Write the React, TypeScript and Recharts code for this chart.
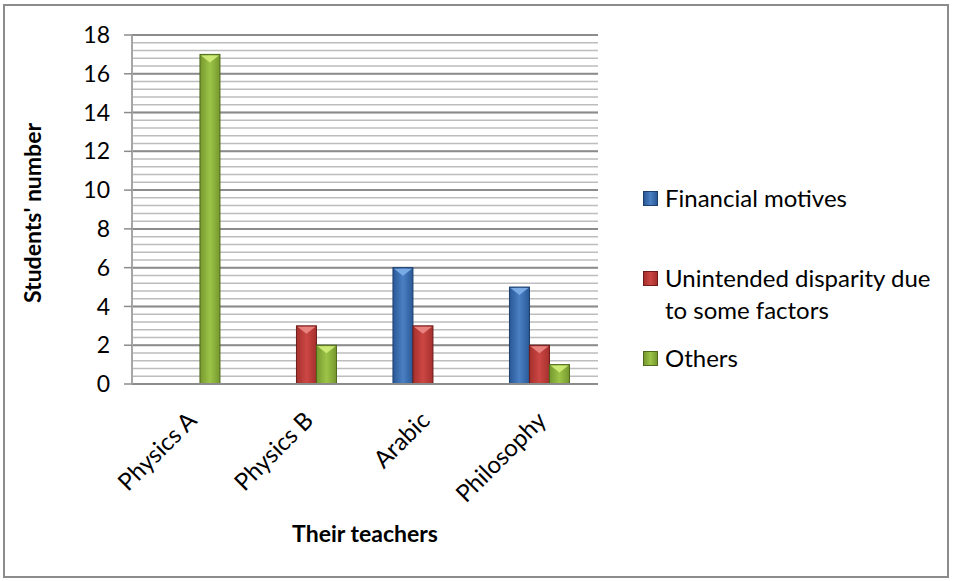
import React from 'react';
import { BarChart, Bar, XAxis, YAxis, CartesianGrid, Legend, Label } from 'recharts';

const categories = ['Physics A', 'Physics B', 'Arabic', 'Philosophy'];
const financialMotives = [0, 0, 6, 5];
const unintendedDisparity = [0, 3, 3, 2];
const others = [17, 2, 0, 1];
const yTicks = [0, 2, 4, 6, 8, 10, 12, 14, 16, 18];
const minorStep = 0.4;
const seriesNames = ['Financial motives', 'Unintended disparity due to some factors', 'Others'];

const data = categories.map((c, i) => ({
  name: c,
  fin: financialMotives[i],
  unint: unintendedDisparity[i],
  oth: others[i],
}));

const minorValues: number[] = [];
for (let v = 0; v <= 18.0001; v += minorStep) minorValues.push(Math.round(v * 10) / 10);

const palettes = {
  blue: { id: 'gBlue', edge: '#1d3f6e', dark: '#2a5896', mid: '#4a80c4', light: '#7fb0ea', fill: '#4a7ebb' },
  red: { id: 'gRed', edge: '#6e1b1a', dark: '#a5302d', mid: '#cc4744', light: '#ec8a86', fill: '#c0504d' },
  green: { id: 'gGreen', edge: '#4f6a1c', dark: '#76982f', mid: '#9cc447', light: '#d2ee7a', fill: '#9bbb59' },
};
const seriesPalettes = [palettes.blue, palettes.red, palettes.green];

const FONT = "Lato, 'Open Sans', sans-serif";

function BevelBar(props: any) {
  const { x, y, width, height, pal } = props;
  if (!height || height <= 0.5) return null;
  const tri = Math.min(8, height / 2);
  return (
    <g>
      <rect x={x} y={y} width={width} height={height} fill={`url(#${pal.id})`} stroke={pal.edge} strokeWidth={1} />
      <polygon
        points={`${x + 1},${y + 1} ${x + width - 1},${y + 1} ${x + width / 2},${y + tri}`}
        fill={pal.light}
        opacity={0.9}
      />
    </g>
  );
}

function XTick(props: any) {
  const { x, y, payload } = props;
  const ax = x + 8;
  const ay = y + 30;
  return (
    <text
      x={ax}
      y={ay}
      transform={`rotate(-45, ${ax}, ${ay})`}
      textAnchor="end"
      fontFamily={FONT}
      fontSize={24}
      fill="#000"
    >
      {payload.value}
    </text>
  );
}

const legendMargins = [0, 48, 16];

function LegendContent() {
  return (
    <div style={{ fontFamily: FONT, fontSize: 24, color: '#000' }}>
      {seriesNames.map((name, i) => {
        const pal = seriesPalettes[i];
        return (
          <div key={i} style={{ display: 'flex', alignItems: 'flex-start', marginTop: legendMargins[i] }}>
            <div
              style={{
                width: 15,
                height: 15,
                marginTop: 9,
                marginRight: 7,
                flex: '0 0 auto',
                boxSizing: 'border-box',
                border: `1px solid ${pal.edge}`,
                background: `linear-gradient(to right, ${pal.dark}, ${pal.mid} 50%, ${pal.dark})`,
              }}
            />
            <div style={{ lineHeight: '32px', width: 282 }}>{name}</div>
          </div>
        );
      })}
    </div>
  );
}

export default function App() {
  return (
    <div style={{ position: 'absolute', left: 0, top: 0, width: 954, height: 581, background: '#fff' }}>
      <div
        style={{
          position: 'absolute',
          left: 3,
          top: 4,
          width: 946,
          height: 574,
          boxSizing: 'border-box',
          border: '2px solid #8c8c8c',
        }}
      />
      <div style={{ position: 'absolute', left: 0, top: 0 }}>
        <BarChart
          width={954}
          height={581}
          data={data}
          margin={{ top: 35, right: 56, bottom: 0, left: 0 }}
          barCategoryGap="24%"
          barGap={0}
        >
          <defs>
            {Object.values(palettes).map((p) => (
              <linearGradient key={p.id} id={p.id} x1="0" y1="0" x2="1" y2="0">
                <stop offset="0%" stopColor={p.dark} />
                <stop offset="50%" stopColor={p.mid} />
                <stop offset="100%" stopColor={p.dark} />
              </linearGradient>
            ))}
          </defs>
          <CartesianGrid horizontalValues={minorValues} vertical={false} stroke="#bdbdbd" strokeWidth={1.5} />
          <CartesianGrid horizontalValues={yTicks} vertical={false} stroke="#8c8c8c" strokeWidth={2} />
          <XAxis
            dataKey="name"
            height={197}
            interval={0}
            tickLine={false}
            axisLine={{ stroke: '#8c8c8c', strokeWidth: 2 }}
            tick={<XTick />}
          >
            <Label
              content={(p: any) => {
                const vb = p.viewBox;
                return (
                  <text
                    x={vb.x + vb.width / 2}
                    y={542}
                    textAnchor="middle"
                    fontFamily={FONT}
                    fontWeight="bold"
                    fontSize={23}
                    fill="#000"
                  >
                    Their teachers
                  </text>
                );
              }}
            />
          </XAxis>
          <YAxis
            width={132}
            domain={[0, 18]}
            ticks={yTicks}
            interval={0}
            tickSize={8}
            tickMargin={14}
            tickLine={{ stroke: '#8c8c8c', strokeWidth: 1.5 }}
            axisLine={{ stroke: '#a6a6a6', strokeWidth: 2 }}
            tick={{ fill: '#000', fontSize: 23, fontFamily: FONT }}
          >
            <Label
              content={() => (
                <text
                  x={41}
                  y={213}
                  transform="rotate(-90, 41, 213)"
                  textAnchor="middle"
                  fontFamily={FONT}
                  fontWeight="bold"
                  fontSize={23}
                  fill="#000"
                >
                  Students' number
                </text>
              )}
            />
          </YAxis>
          <Legend
            layout="vertical"
            align="right"
            verticalAlign="middle"
            width={300}
            wrapperStyle={{ left: 643, top: 182, right: 'auto', width: 300 }}
            content={<LegendContent />}
          />
          <Bar dataKey="fin" name={seriesNames[0]} fill={palettes.blue.fill} isAnimationActive={false}
            shape={(p: any) => <BevelBar {...p} pal={palettes.blue} />} />
          <Bar dataKey="unint" name={seriesNames[1]} fill={palettes.red.fill} isAnimationActive={false}
            shape={(p: any) => <BevelBar {...p} pal={palettes.red} />} />
          <Bar dataKey="oth" name={seriesNames[2]} fill={palettes.green.fill} isAnimationActive={false}
            shape={(p: any) => <BevelBar {...p} pal={palettes.green} />} />
        </BarChart>
      </div>
    </div>
  );
}
